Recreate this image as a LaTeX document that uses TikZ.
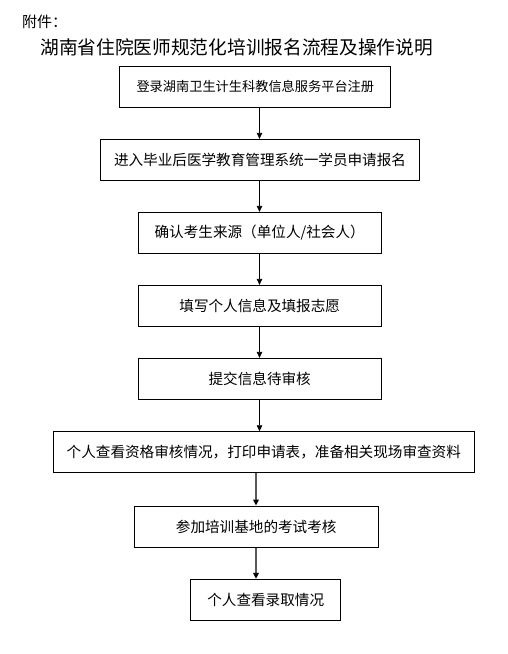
\documentclass[tikz,border=0pt]{standalone}
\usepackage{fontspec}
\setmainfont{Noto Sans CJK SC}
\usetikzlibrary{arrows.meta}
\tikzset{
  stepbox/.style={draw=black, line width=0.9pt, rectangle, inner sep=0pt, align=center, font=\fontsize{14.6}{16}\selectfont},
  arr/.style={draw=black, line width=0.8pt, -{Triangle[length=6pt,width=5.5pt]}},
  arrgray/.style={draw=black!65, line width=1.5pt, -{Triangle[length=6pt,width=5.5pt,fill=black,color=black]}},
}
\begin{document}
\begin{tikzpicture}[x=1pt,y=-1pt]
\useasboundingbox (0,0) rectangle (507,654);
\node[anchor=west, font=\fontsize{15}{17}\selectfont, inner sep=0pt] (hdr) at (22,21.5) {附件：};
\node[font=\fontsize{18.7}{21}\selectfont, inner sep=0pt] (title) at (236.7,47.5) {湖南省住院医师规范化培训报名流程及操作说明};
\node[stepbox, minimum width=271pt, minimum height=41pt, font=\fontsize{13.2}{15}\selectfont] (b1) at (255.3,86.8) {登录湖南卫生计生科教信息服务平台注册};
\node[stepbox, minimum width=319.4pt, minimum height=41pt] (b2) at (260,159.8) {进入毕业后医学教育管理系统一学员申请报名};
\node[stepbox, minimum width=243.3pt, minimum height=41pt] (b3) at (259.7,232.8) {确认考生来源（单位人/社会人）};
\node[stepbox, minimum width=243.3pt, minimum height=41pt] (b4) at (259.7,305.8) {填写个人信息及填报志愿};
\node[stepbox, minimum width=243.3pt, minimum height=41pt] (b5) at (259.7,378.8) {提交信息待审核};
\node[stepbox, minimum width=421pt, minimum height=40.6pt] (b6) at (263.8,452) {个人查看资格审核情况，打印申请表，准备相关现场审查资料};
\node[stepbox, minimum width=244.3pt, minimum height=41.3pt] (b7) at (256.2,526.7) {参加培训基地的考试考核};
\node[stepbox, minimum width=150pt, minimum height=41pt] (b8) at (265.7,599.8) {个人查看录取情况};
\coordinate (ca) at (259.5,0);
\coordinate (cb) at (256,0);
\draw[arr] (b1.south -| ca) -- (b2.north -| ca);
\draw[arr] (b2.south -| ca) -- (b3.north -| ca);
\draw[arr] (b3.south -| ca) -- (b4.north -| ca);
\draw[arr] (b4.south -| ca) -- (b5.north -| ca);
\draw[arr] (b5.south -| ca) -- (b6.north -| ca);
\draw[arrgray] (b6.south -| cb) -- (b7.north -| cb);
\draw[arrgray] (b7.south -| cb) -- (b8.north -| cb);
\end{tikzpicture}
\end{document}
